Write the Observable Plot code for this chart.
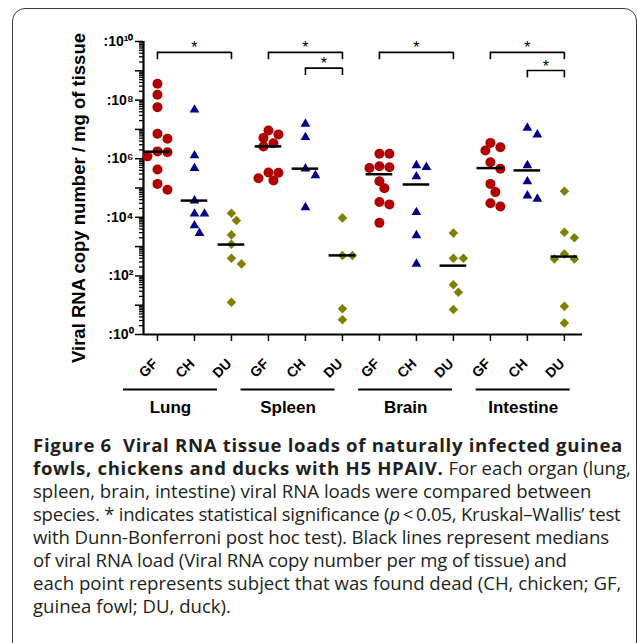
<!DOCTYPE html>
<html><head><meta charset="utf-8">
<script src="https://cdn.jsdelivr.net/npm/d3@7"></script>
<script src="https://cdn.jsdelivr.net/npm/@observablehq/plot@0.6"></script>
<style>
html,body{margin:0;padding:0;background:#fff;}
body{width:637px;height:643px;overflow:hidden;position:relative;}
#frame{position:absolute;left:12px;top:8px;width:625px;height:700px;border:1px solid #3a3a3a;border-radius:13px 13px 0 0;box-sizing:border-box;}
#chart{position:absolute;left:0;top:0;}
#chart svg{overflow:visible;}
#caption{position:absolute;left:33px;top:433px;font-family:"Open Sans",sans-serif;font-size:18.6px;line-height:23px;color:#231f20;white-space:nowrap;}
#caption b{font-weight:700;letter-spacing:0.68px;}
#caption .l4{letter-spacing:-0.24px;}
#caption .l5{letter-spacing:-0.07px;}
#caption .l6{letter-spacing:-0.13px;}
</style></head><body>
<div id="frame"></div>
<div id="chart"></div>
<div id="caption"><b>Figure 6&nbsp; Viral RNA tissue loads of naturally infected guinea<br>fowls, chickens and ducks with H5 HPAIV.</b> For each organ (lung,<br>spleen, brain, intestine) viral RNA loads were compared between<br><span class="l4">species. * indicates statistical significance (<i>p</i>&#8201;&lt;&#8201;0.05, Kruskal–Wallis’ test</span><br><span class="l5">with Dunn-Bonferroni post hoc test). Black lines represent medians</span><br><span class="l6">of viral RNA load (Viral RNA copy number per mg of tissue) and</span><br>each point represents subject that was found dead (CH, chicken; GF,<br>guinea fowl; DU, duck).</div>
<script>
// ---- data (log10 of viral RNA copy number / mg of tissue) ----
const organs = ["Lung", "Spleen", "Brain", "Intestine"];
const species = ["GF", "CH", "DU"];
const lungGF = [8.56, 8.18, 7.76, 6.85, 6.68, 6.25, 6.22, 6.08, 5.63, 5.14, 4.94];
const lungCH = [7.67, 6.11, 5.68, 4.57, 4.12, 4.12, 3.72, 3.46];
const lungDU = [4.14, 3.89, 3.40, 3.08, 2.60, 2.41, 1.10];
const spleenGF = [6.96, 6.83, 6.71, 6.53, 6.42, 5.53, 5.52, 5.33, 5.26];
const spleenCH = [7.19, 6.73, 5.66, 5.43, 4.34];
const spleenDU = [3.98, 2.70, 2.70, 0.88, 0.50];
const brainGF = [6.17, 6.17, 5.74, 5.71, 5.68, 5.23, 4.99, 4.52, 4.44, 3.81];
const brainCH = [5.77, 5.71, 5.39, 4.17, 3.38, 2.41];
const brainDU = [3.46, 2.60, 2.60, 1.70, 1.44, 0.85];
const intestineGF = [6.54, 6.39, 6.28, 5.88, 5.66, 5.14, 4.86, 4.48, 4.37];
const intestineCH = [7.05, 6.82, 5.77, 5.22, 4.74, 4.63];
const intestineDU = [4.89, 3.49, 3.30, 2.75, 2.58, 2.58, 0.96, 0.39];
// medians (log10), in order Lung GF,CH,DU, Spleen ..., Brain ..., Intestine ...
const medians = [6.24, 4.57, 3.07, 6.42, 5.66, 2.70, 5.47, 5.12, 2.35, 5.68, 5.60, 2.66];
// y tick exponents
const yTickExponents = [0, 1, 2, 3, 4, 5, 6, 7, 8, 9, 10];
// significance comparisons (bracket level as log10)
const comparisons = [
  {organ: "Lung", from: "GF", to: "DU", level: 9.63},
  {organ: "Spleen", from: "GF", to: "DU", level: 9.63},
  {organ: "Spleen", from: "CH", to: "DU", level: 9.09},
  {organ: "Brain", from: "GF", to: "DU", level: 9.63},
  {organ: "Intestine", from: "GF", to: "DU", level: 9.63},
  {organ: "Intestine", from: "CH", to: "DU", level: 9.01}
];
const yTitle = "Viral RNA copy number / mg of tissue";

// ---- build tables ----
const series = {
  Lung: [lungGF, lungCH, lungDU],
  Spleen: [spleenGF, spleenCH, spleenDU],
  Brain: [brainGF, brainCH, brainDU],
  Intestine: [intestineGF, intestineCH, intestineDU]
};
const idx = (o, s) => organs.indexOf(o) * 3 + species.indexOf(s);
const X0 = -0.378, X1 = 11.49;
const dX = 0.27, dY = 0.34; // marker diameter in x-units and log10 units

function spread(vals) {
  const order = d3.range(vals.length).sort((a, b) => vals[b] - vals[a]);
  const placed = [], off = new Array(vals.length);
  for (const j of order) {
    for (let k = 0; k < 30; k++) {
      const c = k === 0 ? 0 : (k % 2 ? 1 : -1) * Math.ceil(k / 2) * 0.5;
      if (placed.every(p => (c - p.c) ** 2 + ((vals[j] - p.v) / dY) ** 2 >= 0.85 ** 2)) {
        off[j] = c; placed.push({c, v: vals[j]}); break;
      }
    }
  }
  return off;
}

const points = [];
organs.forEach(o => species.forEach((s, si) => {
  const vals = series[o][si];
  const off = spread(vals);
  vals.forEach((v, j) => points.push({organ: o, species: s, x: idx(o, s) + off[j] * dX, y: 10 ** v}));
}));
const cats = organs.flatMap(o => species.map(s => ({organ: o, species: s, i: idx(o, s)})));
const medianRows = cats.map((c, k) => ({...c, y: 10 ** medians[k]}));
const bracketEnds = comparisons.flatMap(c => [
  {x: idx(c.organ, c.from), y: 10 ** c.level},
  {x: idx(c.organ, c.to), y: 10 ** c.level}
]);

const sup = {"0": "⁰", "1": "¹", "2": "²", "4": "⁴", "6": "⁶", "8": "⁸"};
const supStr = e => String(e).split("").map(ch => sup[ch]).join("");
const majorTicks = yTickExponents.map(e => 10 ** e);
const minorTicks = d3.range(0, 10).flatMap(e => d3.range(2, 10).map(m => m * 10 ** e));

const diamond = {draw(ctx, size) {const r = Math.sqrt(size / 2); ctx.moveTo(0, -r); ctx.lineTo(r, 0); ctx.lineTo(0, r); ctx.lineTo(-r, 0); ctx.closePath();}};
const style = {
  GF: {fill: "#b00000", symbol: "circle", r: 5},
  CH: {fill: "#00008b", symbol: "triangle", r: 3.6},
  DU: {fill: "#808000", symbol: diamond, r: 3.8}
};
const font = "Liberation Sans, Arial, sans-serif";

const groupMarks = organs.flatMap((o, k) => {
  const shift = -24 + 6.6 * k;
  return [
    Plot.ruleY([o], {y: () => 1, x1: () => idx(o, "GF"), x2: () => idx(o, "DU"), dy: 55, dx: shift, insetLeft: -10, insetRight: -10, stroke: "#000", strokeWidth: 2}),
    Plot.text([o], {x: () => idx(o, "CH"), y: () => 1, text: d => d, dy: 73, dx: shift, fontSize: 17, fontWeight: "bold", fill: "#000"})
  ];
});

const chart = Plot.plot({
  width: 637, height: 425,
  marginLeft: 143, marginRight: 55, marginTop: 41, marginBottom: 91,
  x: {type: "linear", domain: [X0, X1], axis: null},
  y: {type: "log", domain: [1, 1e10], axis: null},
  style: {fontFamily: font, background: "transparent", color: "#000"},
  marks: [
    Plot.axisY({ticks: minorTicks, tickSize: 4, tickFormat: () => "", strokeWidth: 1.3, label: null}),
    Plot.axisY({ticks: majorTicks, tickSize: 8, tickPadding: 2, strokeWidth: 1.5, label: null, fontSize: 14, fontWeight: "bold",
      tickFormat: d => { const e = Math.round(Math.log10(d)); return e % 2 === 0 ? ":10" + supStr(e) : ""; }}),
    Plot.axisX({ticks: d3.range(12), tickSize: 7, tickFormat: () => "", strokeWidth: 1.5, label: null}),
    Plot.ruleY([1], {stroke: "#000", strokeWidth: 2.2}),
    Plot.ruleX([X0], {stroke: "#000", strokeWidth: 2.2}),
    Plot.text(cats, {x: "i", y: () => 1, text: "species", rotate: -45, textAnchor: "end", lineAnchor: "bottom", dy: 30, dx: 1, fontSize: 14, fontWeight: "bold", fill: "#000"}),
    Plot.text([yTitle], {frameAnchor: "left", text: d => d, rotate: -90, textAnchor: "middle", dx: -64, dy: 10, fontSize: 18.5, fontWeight: "bold", fill: "#000"}),
    ...groupMarks,
    ...species.map(s => Plot.dot(points.filter(p => p.species === s), {x: "x", y: "y", r: style[s].r, symbol: style[s].symbol, fill: style[s].fill, stroke: "none"})),
    Plot.ruleY(medianRows, {y: "y", x1: d => d.i - 0.36, x2: d => d.i + 0.36, stroke: "#000", strokeWidth: 2.5}),
    Plot.ruleY(comparisons, {y: d => 10 ** d.level, x1: d => idx(d.organ, d.from), x2: d => idx(d.organ, d.to), stroke: "#000", strokeWidth: 1.6}),
    Plot.ruleX(bracketEnds, {x: "x", y1: "y", y2: d => d.y / 10 ** 0.25, stroke: "#000", strokeWidth: 1.6}),
    Plot.text(comparisons, {x: d => (idx(d.organ, d.from) + idx(d.organ, d.to)) / 2, y: d => 10 ** d.level, text: () => "*", lineAnchor: "bottom", dy: 1, fontSize: 16, fill: "#000"})
  ]
});
document.getElementById("chart").appendChild(chart);
</script>
</body></html>
